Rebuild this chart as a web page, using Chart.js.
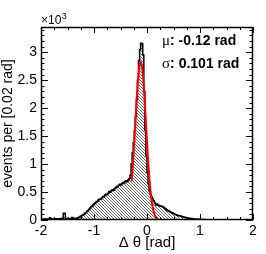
<!DOCTYPE html>
<html>
<head>
<meta charset="utf-8">
<script src="https://cdn.jsdelivr.net/npm/chart.js@4"></script>
<style>
  html, body { margin: 0; padding: 0; background: #fff; overflow: hidden; }
  #wrap { width: 266px; height: 254px; }
</style>
</head>
<body>
<div id="wrap"><canvas id="c"></canvas></div>
<script>
// ================= Data =================
const binLow = -2, binWidth = 0.02;
// events per 0.02 rad bin, from -2 to 2
const counts = [
    12, 15, 14, 18, 16, 14, 20, 18, 40, 22,
    18, 20, 16, 22, 18, 20, 24, 20, 22, 25,
    30, 120, 115, 28, 22, 25, 20, 24, 26, 45,
    25, 30, 28, 32, 35, 45, 55, 65, 78, 90,
    100, 120, 130, 155, 170, 190, 215, 235, 250, 275,
    290, 310, 330, 335, 360, 375, 370, 395, 420, 410,
    445, 460, 450, 480, 510, 495, 525, 540, 530, 560,
    575, 600, 590, 620, 640, 625, 650, 670, 660, 690,
    700, 685, 720, 740, 800, 1000, 1200, 1380, 1600, 1850,
    2150, 2500, 2850, 3050, 3160, 3150, 2950, 2300, 1600, 1150,
    850, 650, 520, 450, 410, 375, 340, 305, 270, 285,
    270, 260, 250, 245, 240, 230, 215, 200, 185, 170,
    160, 150, 140, 128, 120, 110, 100, 92, 85, 80,
    75, 70, 65, 60, 55, 50, 45, 40, 36, 33,
    30, 27, 25, 22, 20, 18, 16, 15, 13, 12,
    10, 9, 8, 8, 7, 6, 6, 5, 5, 4,
    4, 3, 3, 3, 2, 3, 2, 2, 2, 2,
    2, 2, 1, 2, 1, 1, 2, 1, 1, 1,
    1, 1, 1, 1, 0, 1, 1, 0, 1, 0,
    0, 1, 0, 0, 1, 0, 0, 0, 0, 0
];
// gaussian fit curve
const fitX = [-0.29, -0.28, -0.26, -0.24, -0.22, -0.20, -0.18, -0.16, -0.14, -0.12, -0.10, -0.08, -0.06,
              -0.04, -0.02, 0.00, 0.02, 0.04, 0.06, 0.08, 0.10, 0.12, 0.14, 0.16, 0.18, 0.20, 0.21];
const fitY = [690, 807, 1083, 1397, 1734, 2068, 2373, 2617, 2775, 2830, 2775, 2617, 2373,
              2068, 1734, 1397, 1083, 807, 578, 398, 264, 168, 103, 61, 34, 19, 14];
const xTicks = [-2, -1, 0, 1, 2];
const yTicks = [0, 500, 1000, 1500, 2000, 2500, 3000];
const fitMean = '-0.12 rad', fitSigma = '0.101 rad';

// ================= Helpers =================
function histPoints() {
    const pts = [];
    counts.forEach((v, i) => {
        const lo = binLow + i * binWidth;
        pts.push({ x: lo, y: v });
        pts.push({ x: lo + binWidth, y: v });
    });
    return pts;
}

function hatchPattern(ctx) {
    const c = document.createElement('canvas');
    c.width = 3; c.height = 3;
    const g = c.getContext('2d');
    g.fillStyle = '#fff';
    g.fillRect(0, 0, 3, 3);
    g.fillStyle = '#6e6e6e';
    for (let i = 0; i < 3; i++) g.fillRect(i, i, 1, 1);
    return ctx.createPattern(c, 'repeat');
}

// frame with inward ticks, ROOT style
const framePlugin = {
    id: 'frame',
    afterDatasetsDraw(chart) {
        const { ctx, chartArea: a, scales: { x, y } } = chart;
        ctx.save();
        ctx.strokeStyle = '#000';
        ctx.lineWidth = 1;
        ctx.beginPath();
        for (let v = x.min; v <= x.max + 1e-9; v += 0.25) {
            const px = Math.round(x.getPixelForValue(v)) + 0.5;
            const len = Math.abs(v - Math.round(v)) < 1e-6 ? 6 : 3;
            ctx.moveTo(px, a.bottom); ctx.lineTo(px, a.bottom - len);
            ctx.moveTo(px, a.top); ctx.lineTo(px, a.top + len);
        }
        for (let v = 0; v <= y.max; v += 100) {
            const py = Math.round(y.getPixelForValue(v)) + 0.5;
            const len = v % 500 === 0 ? 7 : 3.5;
            ctx.moveTo(a.left, py); ctx.lineTo(a.left + len, py);
            ctx.moveTo(a.right, py); ctx.lineTo(a.right - len, py);
        }
        ctx.stroke();
        ctx.lineWidth = 1.5;
        ctx.strokeRect(Math.round(a.left) + 0.5, Math.round(a.top) + 0.5,
                       Math.round(a.right - a.left) - 1, Math.round(a.bottom - a.top) - 1);

        // x10^3 multiplier
        ctx.fillStyle = '#000';
        ctx.textBaseline = 'alphabetic';
        ctx.font = '12px "Liberation Sans", Arial, sans-serif';
        ctx.fillText('\u00d710', a.left, a.top - 3);
        const w = ctx.measureText('\u00d710').width;
        ctx.font = '9px "Liberation Sans", Arial, sans-serif';
        ctx.fillText('3', a.left + w + 0.5, a.top - 8);

        // fit parameters
        const labels = [['\u03bc', fitMean, 45], ['\u03c3', fitSigma, 68]];
        labels.forEach(([sym, txt, by]) => {
            ctx.font = '15px "Liberation Serif", "Times New Roman", serif';
            ctx.fillText(sym, 162, by);
            const sw = ctx.measureText(sym).width;
            ctx.font = 'bold 14px "Liberation Sans", Arial, sans-serif';
            ctx.fillText(': ' + txt, 162 + sw, by);
        });
        ctx.restore();
    }
};

// ================= Chart =================
const canvas = document.getElementById('c');
const ctx = canvas.getContext('2d');
const tickFont = { family: '"Liberation Sans", Arial, sans-serif', size: 14 };

new Chart(ctx, {
    type: 'line',
    data: {
        datasets: [
            {
                label: 'data',
                data: histPoints(),
                borderColor: '#000',
                borderWidth: 1.5,
                backgroundColor: hatchPattern(ctx),
                fill: 'origin',
                pointRadius: 0,
                tension: 0,
                order: 2
            },
            {
                label: 'fit',
                data: fitX.map((v, i) => ({ x: v, y: fitY[i] })),
                borderColor: '#ff0000',
                borderWidth: 2,
                fill: false,
                pointRadius: 0,
                tension: 0.2,
                order: 1
            }
        ]
    },
    options: {
        responsive: true,
        maintainAspectRatio: false,
        animation: false,
        layout: { padding: { top: 27, right: 13, left: 0, bottom: 0 } },
        plugins: { legend: { display: false }, tooltip: { enabled: false } },
        scales: {
            x: {
                type: 'linear',
                min: -2, max: 2,
                afterFit: s => { s.height = 34; },
                afterBuildTicks: s => { s.ticks = xTicks.map(v => ({ value: v })); },
                grid: { display: false, drawTicks: false },
                border: { display: false },
                ticks: { color: '#000', font: tickFont, padding: 3, maxRotation: 0, autoSkip: false },
                title: {
                    display: true, text: '\u0394 \u03b8 [rad]', color: '#000',
                    font: { family: tickFont.family, size: 15 }, padding: { top: 0, bottom: 2 }
                }
            },
            y: {
                min: 0, max: 3450,
                afterFit: s => { s.width = 41; },
                afterBuildTicks: s => { s.ticks = yTicks.map(v => ({ value: v })); },
                grid: { display: false, drawTicks: false },
                border: { display: false },
                ticks: { color: '#000', font: tickFont, padding: 4, callback: v => String(v / 1000) },
                title: {
                    display: true, text: 'events per [0.02 rad]', color: '#000',
                    font: tickFont, padding: { top: 0, bottom: 0 }
                }
            }
        }
    },
    plugins: [framePlugin]
});
</script>
</body>
</html>
